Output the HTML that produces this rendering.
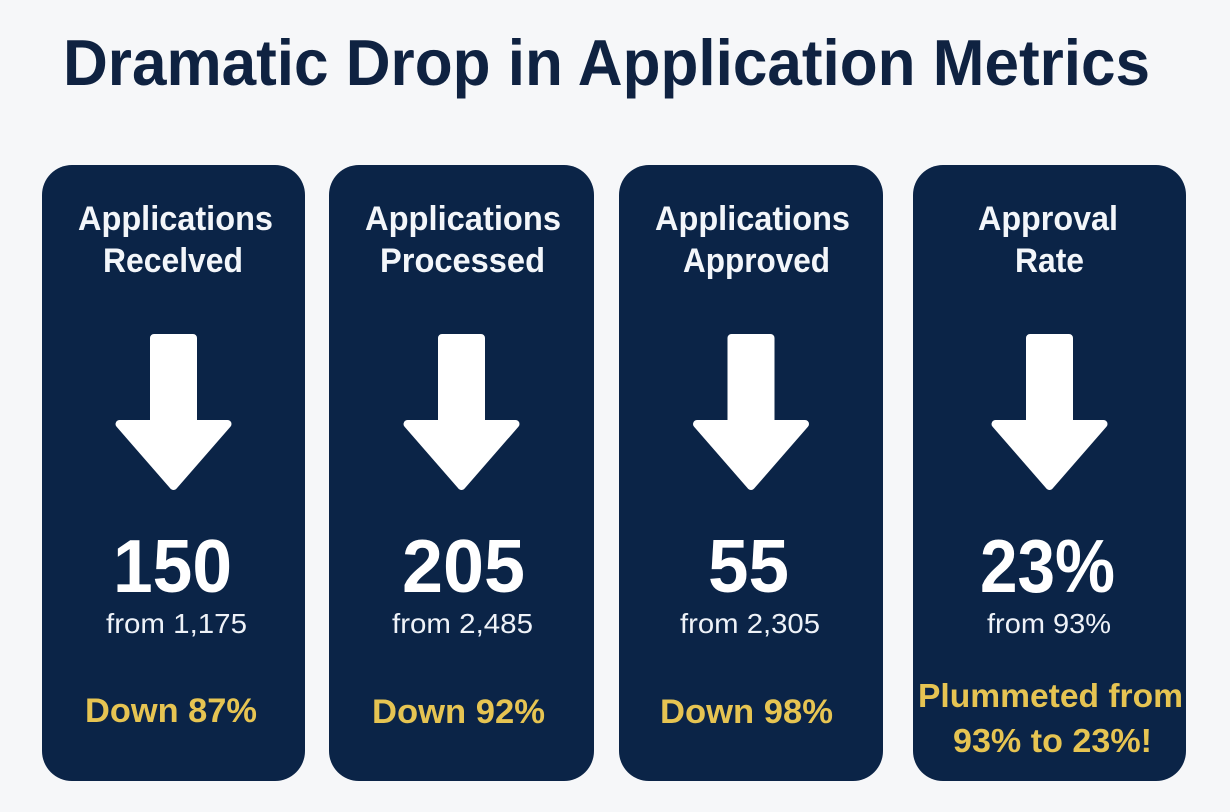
<!DOCTYPE html>
<html>
<head>
<meta charset="utf-8">
<style>
  html,body{margin:0;padding:0;background:#f6f7f9;}
  svg{display:block;}
  text{font-family:"Liberation Sans",Arial,sans-serif;}
</style>
</head>
<body>
<svg width="1230" height="812" viewBox="0 0 1230 812" xmlns="http://www.w3.org/2000/svg">
  <rect x="0" y="0" width="1230" height="812" fill="#f6f7f9"/>
  <text x="63" y="85" font-size="65" font-weight="bold" fill="#0f2241" textLength="1087" lengthAdjust="spacingAndGlyphs">Dramatic Drop in Application Metrics</text>

  <defs>
    <path id="arr" d="M-19.5,338 L19.5,338 L19.5,424 L54,424 L0,486 L-54,424 L-19.5,424 Z" fill="#ffffff" stroke="#ffffff" stroke-width="8" stroke-linejoin="round"/>
  </defs>

  <!-- Card 1 -->
  <rect x="42" y="165" width="263" height="616" rx="30" fill="#0b2447"/>
  <use href="#arr" x="173.5" y="0"/>
  <text x="78" y="230" font-size="34" font-weight="bold" fill="#f3f6fa" textLength="195" lengthAdjust="spacingAndGlyphs">Applications</text>
  <text x="103" y="272" font-size="34" font-weight="bold" fill="#f3f6fa" textLength="140" lengthAdjust="spacingAndGlyphs">Recelved</text>
  <text x="113" y="592" font-size="75" font-weight="bold" fill="#ffffff" textLength="119" lengthAdjust="spacingAndGlyphs">150</text>
  <text x="106" y="633" font-size="28" fill="#eef2f8" textLength="141" lengthAdjust="spacingAndGlyphs">from 1,175</text>
  <text x="85" y="722" font-size="34" font-weight="bold" fill="#e6c452" textLength="172" lengthAdjust="spacingAndGlyphs">Down 87%</text>

  <!-- Card 2 -->
  <rect x="329" y="165" width="265" height="616" rx="30" fill="#0b2447"/>
  <use href="#arr" x="461.5" y="0"/>
  <text x="365" y="230" font-size="34" font-weight="bold" fill="#f3f6fa" textLength="196" lengthAdjust="spacingAndGlyphs">Applications</text>
  <text x="380" y="272" font-size="34" font-weight="bold" fill="#f3f6fa" textLength="165" lengthAdjust="spacingAndGlyphs">Processed</text>
  <text x="402" y="592" font-size="75" font-weight="bold" fill="#ffffff" textLength="123" lengthAdjust="spacingAndGlyphs">205</text>
  <text x="392" y="633" font-size="28" fill="#eef2f8" textLength="141" lengthAdjust="spacingAndGlyphs">from 2,485</text>
  <text x="372" y="723" font-size="34" font-weight="bold" fill="#e6c452" textLength="173" lengthAdjust="spacingAndGlyphs">Down 92%</text>

  <!-- Card 3 -->
  <rect x="619" y="165" width="264" height="616" rx="30" fill="#0b2447"/>
  <use href="#arr" x="751" y="0"/>
  <text x="655" y="230" font-size="34" font-weight="bold" fill="#f3f6fa" textLength="195" lengthAdjust="spacingAndGlyphs">Applications</text>
  <text x="683" y="272" font-size="34" font-weight="bold" fill="#f3f6fa" textLength="147" lengthAdjust="spacingAndGlyphs">Approved</text>
  <text x="708" y="592" font-size="75" font-weight="bold" fill="#ffffff" textLength="81" lengthAdjust="spacingAndGlyphs">55</text>
  <text x="680" y="633" font-size="28" fill="#eef2f8" textLength="140" lengthAdjust="spacingAndGlyphs">from 2,305</text>
  <text x="660" y="723" font-size="34" font-weight="bold" fill="#e6c452" textLength="173" lengthAdjust="spacingAndGlyphs">Down 98%</text>

  <!-- Card 4 -->
  <rect x="913" y="165" width="273" height="616" rx="30" fill="#0b2447"/>
  <use href="#arr" x="1049.5" y="0"/>
  <text x="978" y="230" font-size="34" font-weight="bold" fill="#f3f6fa" textLength="140" lengthAdjust="spacingAndGlyphs">Approval</text>
  <text x="1015" y="272" font-size="34" font-weight="bold" fill="#f3f6fa" textLength="69" lengthAdjust="spacingAndGlyphs">Rate</text>
  <text x="980" y="592" font-size="75" font-weight="bold" fill="#ffffff" textLength="135" lengthAdjust="spacingAndGlyphs">23%</text>
  <text x="987" y="633" font-size="28" fill="#eef2f8" textLength="124" lengthAdjust="spacingAndGlyphs">from 93%</text>
  <text x="918" y="707" font-size="33" font-weight="bold" fill="#e6c452" textLength="265" lengthAdjust="spacingAndGlyphs">Plummeted from</text>
  <text x="953" y="752" font-size="33" font-weight="bold" fill="#e6c452" textLength="199" lengthAdjust="spacingAndGlyphs">93% to 23%!</text>
</svg>
</body>
</html>
